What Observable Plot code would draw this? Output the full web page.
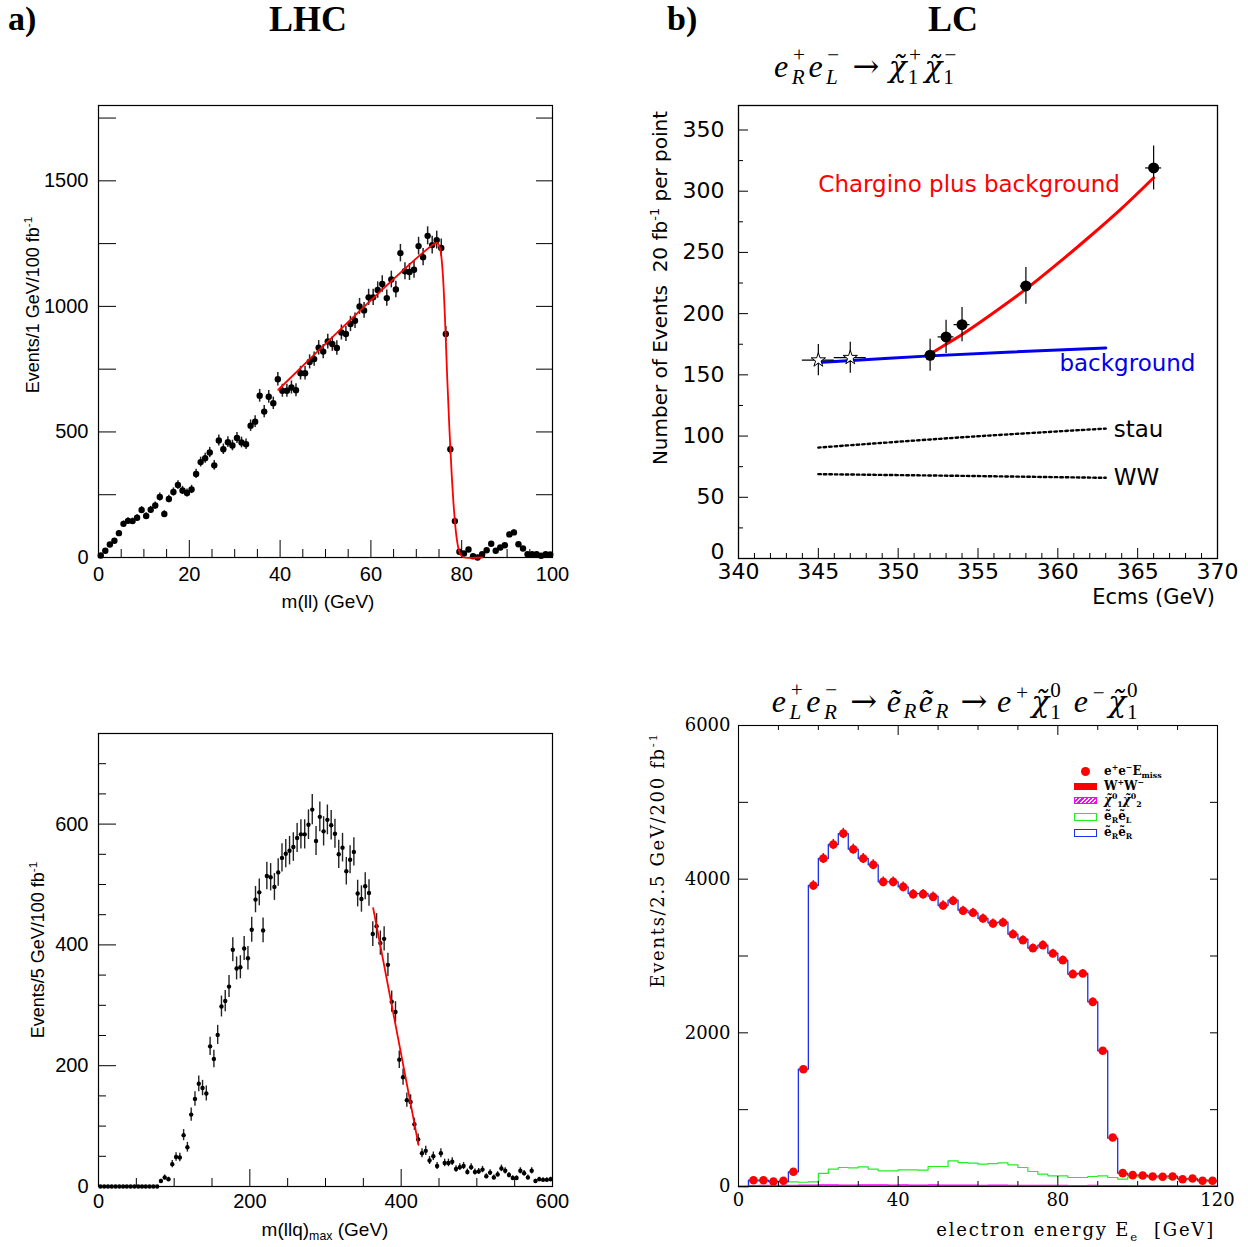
<!DOCTYPE html>
<html><head><meta charset="utf-8">
<script src="https://cdn.jsdelivr.net/npm/d3@7"></script>
<script src="https://cdn.jsdelivr.net/npm/@observablehq/plot@0.6"></script>
<style>
html,body{margin:0;padding:0;background:#fff;}
#root{position:relative;width:1248px;height:1247px;overflow:hidden;background:#fff;}
.t{position:absolute;white-space:pre;line-height:1;color:#000;}
.rot{transform:translate(-50%,-50%) rotate(-90deg);}
.ctr{transform:translate(-50%,-50%);}
.rgt{transform:translate(-100%,-50%);}
.lft{transform:translate(0,-50%);}
.math{font-family:"Liberation Serif","DejaVu Serif",serif;font-style:italic;letter-spacing:2.5px;}
.chi{font-family:"DejaVu Serif",serif;font-style:italic;letter-spacing:0;font-size:0.92em;}
.ss{display:inline-block;vertical-align:-0.34em;font-size:0.66em;line-height:1;margin-left:1px;}
.ss>span{display:block;height:1.05em;}
.sp{font-size:0.66em;vertical-align:0.55em;line-height:0;margin-left:1px;}
.sb{font-size:0.66em;vertical-align:-0.3em;line-height:0;}
.up{font-style:normal;}
.arr{font-family:"DejaVu Serif",serif;font-style:normal;margin:0 0.3em;letter-spacing:0;}
.sans{font-family:"Liberation Sans",Arial,sans-serif;}
.dj{font-family:"DejaVu Sans",sans-serif;}
.ser{font-family:"DejaVu Serif",serif;}
sup.s,sub.s{font-size:0.65em;line-height:0;}
.lg{position:absolute;font-family:"DejaVu Serif",serif;font-weight:bold;font-size:12px;line-height:1;white-space:nowrap;}
.sw{position:absolute;box-sizing:border-box;}
.bt{font-family:"Liberation Serif",serif;font-weight:bold;font-size:34px;}
</style></head><body><div id="root">
<div class="t lft bt" style="left:8px;top:19px">a)</div>
<div class="t ctr bt" style="left:308px;top:19px;font-size:36px">LHC</div>
<div class="t lft bt" style="left:667px;top:19px">b)</div>
<div class="t ctr bt" style="left:953px;top:19px;font-size:36px">LC</div>

<div class="t ctr math" style="left:867px;top:67px;font-size:32px">e<span class="ss"><span>+</span><span>R</span></span>e<span class="ss"><span>&#8722;</span><span>L</span></span><span class="arr">&#8594;</span><span class="chi">&#967;&#771;</span><span class="ss"><span>+</span><span class="up">1</span></span><span class="chi">&#967;&#771;</span><span class="ss"><span>&#8722;</span><span class="up">1</span></span></div>
<div class="t ctr math" style="left:956px;top:702px;font-size:32px">e<span class="ss"><span>+</span><span>L</span></span>e<span class="ss"><span>&#8722;</span><span>R</span></span><span class="arr">&#8594;</span>&#7869;<span class="sb">R</span>&#7869;<span class="sb">R</span><span class="arr">&#8594;</span>e<span class="sp">+</span><span class="chi">&#967;&#771;</span><span class="ss"><span class="up">0</span><span class="up">1</span></span> e<span class="sp">&#8722;</span><span class="chi">&#967;&#771;</span><span class="ss"><span class="up">0</span><span class="up">1</span></span></div>

<div class="t sans rot" style="left:33px;top:305px;font-size:18px">Events/1 GeV/100 fb<sup class="s">-1</sup></div>
<div class="t sans ctr" style="left:328px;top:601px;font-size:19px">m(ll) (GeV)</div>
<div class="t sans rot" style="left:38px;top:950px;font-size:18px">Events/5 GeV/100 fb<sup class="s">-1</sup></div>
<div class="t sans ctr" style="left:325px;top:1229px;font-size:19px">m(llq)<sub class="s">max</sub> (GeV)</div>

<div class="t dj rot" style="left:660px;top:288px;font-size:20px">Number of Events  20 fb<sup class="s">-1</sup> per point</div>
<div class="t dj rgt" style="left:1215px;top:597px;font-size:21px">Ecms (GeV)</div>

<div class="t ser rot" style="left:658px;top:860px;font-size:18px;letter-spacing:1.7px">Events/2.5 GeV/200 fb<sup class="s">-1</sup></div>
<div class="t ser rgt" style="left:1215px;top:1230px;font-size:18px;letter-spacing:1.8px">electron energy E<sub class="s">e</sub>  [GeV]</div>
</div>
<script>
// ---------------- Panel a) top: m(ll), 1 GeV bins ----------------
const aBinStart = 0.5, aBinWidth = 1;
const aValues = [8, 27, 52, 67, 97, 134, 146, 145, 158, 189,
 165, 190, 207, 241, 173, 233, 261, 289, 267, 257,
 271, 333, 380, 395, 418, 367, 466, 431, 459, 446,
 476, 458, 451, 525, 541, 644, 581, 640, 614, 710,
 664, 664, 677, 666, 734, 734, 779, 790, 835, 820,
 860, 850, 834, 896, 890, 930, 943, 1000, 984, 1036,
 1036, 1065, 1089, 1033, 1107, 1067, 1212, 1140, 1137, 1146,
 1240, 1196, 1281, 1244, 1264, 1233, 890, 431, 145, 23,
 16, 32, 5, 0, 13, 29, 55, 27, 40, 49,
 92, 100, 53, 36, 13, 13, 13, 7, 13, 12];
const aFitX = [39.6, 74.3, 74.8, 75.3, 75.8, 76.3, 76.8, 77.3, 77.8, 78.3, 78.8, 79.3, 79.8, 80.4, 84.5];
const aFitY = [668, 1252, 1250, 1225, 1140, 960, 720, 510, 330, 190, 90, 35, 10, 1, 0];
const aXLabels = [0, 20, 40, 60, 80, 100];
const aYLabels = [0, 500, 1000, 1500];
const aYTickMarks = [250, 500, 750, 1000, 1250, 1500, 1750];
const aXMajorTicks = [20, 40, 60, 80];
const aXMinorTicks = [5, 10, 15, 25, 30, 35, 45, 50, 55, 65, 70, 75, 85, 90, 95];

// ---------------- Panel a) bottom: m(llq)max, 5 GeV bins ----------------
const bBinStart = 2.5, bBinWidth = 5;
const bValues = [0,0,0,0,0,0,0,0,0,0,0,0,0,0,0,0,
 9,15,12,37,49,48,85,65,119,145,
 170,163,154,232,211,251,298,307,331,392,
 361,363,394,378,425,475,487,424,514,512,
 496,520,544,551,556,562,577,583,583,599,
 624,572,612,588,607,598,584,550,561,522,
 541,554,485,476,497,486,418,431,403,410,
 367,306,289,210,181,143,140,103,78,55,
 59,43,50,34,55,39,39,41,29,32,
 34,24,32,24,25,28,17,23,15,20,
 30,26,19,14,14,26,22,15,26,9,
 12,11,11,12];
const bFitX = [363, 422.9];
const bFitY = [461, 69];
const bXLabels = [0, 200, 400, 600];
const bYLabels = [0, 200, 400, 600];
const bYMajorTicks = [200, 400, 600];
const bYMinorTicks = [50, 100, 150, 250, 300, 350, 450, 500, 550, 650, 700];
const bXMajorTicks = [200, 400];
const bXMinorTicks = [50, 100, 150, 250, 300, 350, 450, 500, 550];

// ---------------- Panel b) top: chargino threshold scan ----------------
const cEcms = [345, 347, 352, 353, 354, 358, 366];
const cEvents = [162, 164, 166, 181, 191, 222.6, 319];
const cEventsErr = [12.8, 12.7, 13, 13.6, 14, 15, 18];
const cEcmsErr = [1, 1, 0.35, 0.5, 0.5, 0.35, 0.5];
const cMarker = ["star", "star", "dot", "dot", "dot", "dot", "dot"];
const cSigX = [352, 353, 354, 356, 358, 360, 362, 364, 366];
const cSigY = [167, 175, 183, 201, 220, 241, 263, 286, 311];
const cBkgX = [345, 352, 363];
const cBkgY = [160, 165.5, 172];
const cStauX = [345, 354, 363];
const cStauY = [90.6, 99.0, 106.1];
const cWWX = [345, 354, 363];
const cWWY = [68.9, 67.5, 65.9];
const cLabelText = ["Chargino plus background", "background", "stau", "WW"];
const cLabelX = [345.0, 360.1, 363.5, 363.5];
const cLabelY = [305, 159, 105, 66];
const cLabelColor = ["#ff0000", "#0000ee", "#000000", "#000000"];
const cXLabels = [340, 345, 350, 355, 360, 365, 370];
const cYLabels = [50, 100, 150, 200, 250, 300, 350];
const cYZeroLabel = [0];
const cYMajorTicks = [50, 100, 150, 200, 250, 300, 350];
const cYMinorTicks = [25, 75, 125, 175, 225, 275, 325];
const cXMajorTicks = [345, 350, 355, 360, 365];
const cXMinorTicks = [341,342,343,344,346,347,348,349,351,352,353,354,356,357,358,359,361,362,363,364,366,367,368,369];

// ---------------- Panel b) bottom: electron energy, 2.5 GeV bins ----------------
const dBinStart = 0, dBinWidth = 2.5, dMax = 120;
const dData = [null, 82, 82, 65, 74, 191, 1527, 3918, 4269, 4451,
 4594, 4390, 4269, 4187, 3965, 3965, 3900, 3805, 3805, 3770,
 3657, 3718, 3588, 3562, 3488, 3423, 3436, 3284, 3206, 3102,
 3141, 3033, 2946, 2764, 2772, 2403, 1766, 638, 174, 148,
 143, 130, 126, 130, 95, 104, 74, 74];
const dSelRR = [0, 82, 82, 65, 65, 191, 1527, 3918, 4269, 4451,
 4594, 4390, 4269, 4187, 3965, 3965, 3900, 3813, 3813, 3779,
 3657, 3727, 3597, 3562, 3488, 3432, 3440, 3284, 3219, 3102,
 3141, 3037, 2946, 2764, 2772, 2403, 1766, 629, 174, 148,
 148, 134, 134, 134, 100, 100, 74, 74];
const dSelRL = [0, 70, 70, 65, 65, 60, 55, 60, 170, 226,
 247, 243, 256, 226, 204, 204, 217, 217, 213, 260,
 260, 334, 312, 304, 291, 299, 308, 282, 247, 195,
 160, 139, 139, 117, 117, 130, 139, 117, 95, 126,
 126, 120, 115, 110, 105, 100, 90, 80];
const dChi12 = [0, 10, 12, 12, 14, 14, 15, 16, 18, 18,
 17, 16, 18, 20, 18, 16, 18, 17, 16, 18,
 16, 17, 15, 16, 14, 16, 15, 14, 12, 13,
 12, 12, 12, 11, 10, 12, 10, 10, 9, 8,
 8, 8, 7, 6, 6, 5, 5, 5];
const dWW = [0, 3, 3, 3, 4, 4, 4, 4, 5, 5,
 5, 5, 5, 5, 5, 5, 5, 5, 5, 5,
 5, 5, 5, 5, 5, 5, 5, 5, 5, 5,
 5, 5, 5, 5, 5, 5, 4, 4, 4, 4,
 4, 4, 4, 4, 3, 3, 3, 3];
const dXLabels = [0, 40, 80, 120];
const dYLabels = [0, 2000, 4000, 6000];
const dYTicks = [1000, 2000, 3000, 4000, 5000];
const dXMajorTicks = [40, 80];
const dXMinorTicks = [10, 20, 30, 50, 60, 70, 90, 100, 110];

// ---------------- helpers ----------------
const root = document.getElementById("root");
const plain = d => String(d);
function place(svg, left, top) {
  svg.style.position = "absolute";
  svg.style.left = left + "px";
  svg.style.top = top + "px";
  root.appendChild(svg);
}
function geom(L) {
  return {width: L.w, height: L.h, marginLeft: L.fx0 - L.left, marginRight: L.left + L.w - L.fx1,
    marginTop: L.fy0 - L.top, marginBottom: L.top + L.h - L.fy1};
}
function tLeft(vals, len, L, o = {}) { return Plot.tickY(vals, {y: d => d, insetRight: (L.fx1 - L.fx0) - len, stroke: "#000", ...o}); }
function tRight(vals, len, L, o = {}) { return Plot.tickY(vals, {y: d => d, insetLeft: (L.fx1 - L.fx0) - len, stroke: "#000", ...o}); }
function tBottom(vals, len, L, o = {}) { return Plot.tickX(vals, {x: d => d, insetTop: (L.fy1 - L.fy0) - len, stroke: "#000", ...o}); }
function tTop(vals, len, L, o = {}) { return Plot.tickX(vals, {x: d => d, insetBottom: (L.fy1 - L.fy0) - len, stroke: "#000", ...o}); }

// ---------------- Panel A ----------------
{
  const L = {left: 0, top: 90, w: 600, h: 540, fx0: 98, fx1: 552, fy0: 105, fy1: 557};
  const data = aValues.map((v, i) => ({x: aBinStart + i * aBinWidth, y: v}));
  const fit = aFitX.map((x, i) => ({x, y: aFitY[i]}));
  const svg = Plot.plot({
    ...geom(L),
    style: {fontFamily: "'Liberation Sans', Arial, sans-serif", fontSize: "20px", background: "none", overflow: "visible", color: "#000"},
    x: {domain: [0, 100], label: null},
    y: {domain: [0, 1800], label: null},
    marks: [
      Plot.frame({stroke: "#000", strokeWidth: 1.2}),
      tLeft(aYTickMarks, 18, L), tRight(aYTickMarks, 16, L),
      tBottom(aXMajorTicks, 17, L), tBottom(aXMinorTicks, 8, L),
      Plot.axisX({ticks: aXLabels, tickFormat: plain, tickSize: 0, tickPadding: 9, label: null}),
      Plot.axisY({ticks: aYLabels, tickFormat: plain, tickSize: 0, tickPadding: 10, label: null}),
      Plot.ruleX(data, {x: "x", y1: d => d.y - Math.sqrt(d.y), y2: d => d.y + Math.sqrt(d.y), stroke: "#222", strokeWidth: 1.5}),
      Plot.dot(data, {x: "x", y: "y", r: 3.2, fill: "#000", stroke: "none"}),
      Plot.line(fit, {x: "x", y: "y", stroke: "#ff0000", strokeWidth: 1.8, curve: "catmull-rom"})
    ]
  });
  place(svg, L.left, L.top);
}

// ---------------- Panel B ----------------
{
  const L = {left: 0, top: 715, w: 600, h: 532, fx0: 98, fx1: 552, fy0: 733, fy1: 1186};
  const data = bValues.map((v, i) => ({x: bBinStart + i * bBinWidth, y: v}));
  const fit = bFitX.map((x, i) => ({x, y: bFitY[i]}));
  const svg = Plot.plot({
    ...geom(L),
    style: {fontFamily: "'Liberation Sans', Arial, sans-serif", fontSize: "20px", background: "none", overflow: "visible", color: "#000"},
    x: {domain: [0, 600], label: null},
    y: {domain: [0, 750], label: null},
    marks: [
      Plot.frame({stroke: "#000", strokeWidth: 1.2}),
      tLeft(bYMajorTicks, 18, L), tLeft(bYMinorTicks, 8, L),
      tBottom(bXMajorTicks, 17, L), tBottom(bXMinorTicks, 8, L),
      Plot.axisX({ticks: bXLabels, tickFormat: plain, tickSize: 0, tickPadding: 7, label: null}),
      Plot.axisY({ticks: bYLabels, tickFormat: plain, tickSize: 0, tickPadding: 10, label: null}),
      Plot.ruleX(data, {x: "x", y1: d => d.y - Math.sqrt(d.y), y2: d => d.y + Math.sqrt(d.y), stroke: "#222", strokeWidth: 1.4}),
      Plot.dot(data, {x: "x", y: "y", r: 2.2, fill: "#000", stroke: "none"}),
      Plot.line(fit, {x: "x", y: "y", stroke: "#ff0000", strokeWidth: 1.8})
    ]
  });
  place(svg, L.left, L.top);
}

// ---------------- Panel C ----------------
{
  const L = {left: 620, top: 90, w: 628, h: 540, fx0: 738, fx1: 1217, fy0: 105, fy1: 558};
  const pts = cEcms.map((x, i) => ({x, y: cEvents[i], ey: cEventsErr[i], ex: cEcmsErr[i], m: cMarker[i]}));
  const line = (xs, ys) => xs.map((x, i) => ({x, y: ys[i]}));
  const labels = cLabelText.map((t, i) => ({t, x: cLabelX[i], y: cLabelY[i], c: cLabelColor[i]}));
  const svg = Plot.plot({
    ...geom(L),
    style: {fontFamily: "'DejaVu Sans', sans-serif", fontSize: "22px", background: "none", overflow: "visible", color: "#000"},
    x: {domain: [340, 370], label: null},
    y: {domain: [0, 370], label: null},
    marks: [
      Plot.frame({stroke: "#000", strokeWidth: 1.3}),
      tLeft(cYMajorTicks, 10, L), tLeft(cYMinorTicks, 5, L),
      tBottom(cXMajorTicks, 10, L), tBottom(cXMinorTicks, 5, L),
      Plot.axisX({ticks: cXLabels, tickFormat: plain, tickSize: 0, tickPadding: 5, label: null}),
      Plot.axisY({ticks: cYLabels, tickFormat: plain, tickSize: 0, tickPadding: 14, label: null}),
      Plot.axisY({ticks: cYZeroLabel, tickFormat: plain, tickSize: 0, tickPadding: 14, dy: -7, label: null}),
      Plot.line(line(cWWX, cWWY), {x: "x", y: "y", stroke: "#000", strokeWidth: 2.4, strokeDasharray: "2.5 3"}),
      Plot.line(line(cStauX, cStauY), {x: "x", y: "y", stroke: "#000", strokeWidth: 2.4, strokeDasharray: "2.5 3", curve: "catmull-rom"}),
      Plot.line(line(cBkgX, cBkgY), {x: "x", y: "y", stroke: "#0000ee", strokeWidth: 3, curve: "catmull-rom"}),
      Plot.line(line(cSigX, cSigY), {x: "x", y: "y", stroke: "#ff0000", strokeWidth: 3, curve: "catmull-rom"}),
      Plot.ruleX(pts, {x: "x", y1: d => d.y - d.ey, y2: d => d.y + d.ey, stroke: "#000", strokeWidth: 1.2}),
      Plot.ruleY(pts, {y: "y", x1: d => d.x - d.ex, x2: d => d.x + d.ex, stroke: "#000", strokeWidth: 1.2}),
      Plot.dot(pts.filter(d => d.m === "dot"), {x: "x", y: "y", r: 5.5, fill: "#000"}),
      Plot.dot(pts.filter(d => d.m === "star"), {x: "x", y: "y", r: 4.5, symbol: "star", fill: "#fff", stroke: "#000", strokeWidth: 1}),
      Plot.text(labels, {x: "x", y: "y", text: "t", fill: "c", textAnchor: "start", fontSize: 23})
    ]
  });
  place(svg, L.left, L.top);
}

// ---------------- Panel D ----------------
{
  const L = {left: 620, top: 700, w: 628, h: 547, fx0: 738, fx1: 1217, fy0: 725, fy1: 1186};
  const edges = dSelRR.map((v, i) => dBinStart + i * dBinWidth);
  const steps = vals => vals.map((v, i) => ({x: edges[i], y: v})).concat([{x: dMax, y: vals[vals.length - 1]}]);
  const pts = dData.map((v, i) => ({x: edges[i] + dBinWidth / 2, y: v})).filter(d => d.y != null);
  const svg = Plot.plot({
    ...geom(L),
    style: {fontFamily: "'DejaVu Serif', serif", fontSize: "18px", background: "none", overflow: "visible", color: "#000"},
    x: {domain: [0, 120], label: null},
    y: {domain: [0, 6000], label: null},
    marks: [
      Plot.line(steps(dWW), {x: "x", y: "y", curve: "step-after", stroke: "#cc0000", strokeWidth: 1.2}),
      Plot.line(steps(dChi12), {x: "x", y: "y", curve: "step-after", stroke: "#ff00ff", strokeWidth: 1.5}),
      Plot.line(steps(dSelRL), {x: "x", y: "y", curve: "step-after", stroke: "#22ee22", strokeWidth: 1.2}),
      Plot.line(steps(dSelRR), {x: "x", y: "y", curve: "step-after", stroke: "#1a2ff0", strokeWidth: 1.3}),
      Plot.ruleX(pts, {x: "x", y1: d => d.y - Math.sqrt(d.y), y2: d => d.y + Math.sqrt(d.y), stroke: "#ff0000", strokeWidth: 1.5}),
      Plot.dot(pts, {x: "x", y: "y", r: 4.3, fill: "#ff0000"}),
      Plot.frame({stroke: "#000", strokeWidth: 1.1}),
      tLeft(dYTicks, 10, L), tRight(dYTicks, 7, L),
      tBottom(dXMajorTicks, 10, L), tBottom(dXMinorTicks, 5, L),
      tTop(dXMajorTicks, 10, L), tTop(dXMinorTicks, 5, L),
      Plot.axisX({ticks: dXLabels, tickFormat: plain, tickSize: 0, tickPadding: 7, label: null}),
      Plot.axisY({ticks: dYLabels, tickFormat: plain, tickSize: 0, tickPadding: 8, label: null})
    ]
  });
  place(svg, L.left, L.top);
}

// ---------------- Legend of panel D ----------------
const legendItems = [
  {label: "e<sup class='s'>+</sup>e<sup class='s'>&#8722;</sup>E<sub class='s'>miss</sub>", kind: "dot", color: "#ff0000"},
  {label: "W<sup class='s'>+</sup>W<sup class='s'>&#8722;</sup>", kind: "fill", color: "#ff0000"},
  {label: "<i>&#967;&#771;</i><sup class='s'>0</sup><sub class='s'>1</sub><i>&#967;&#771;</i><sup class='s'>0</sup><sub class='s'>2</sub>", kind: "hatch", color: "#ff00ff"},
  {label: "&#7869;<sub class='s'>R</sub>&#7869;<sub class='s'>L</sub>", kind: "box", color: "#22ee22"},
  {label: "&#7869;<sub class='s'>R</sub>&#7869;<sub class='s'>R</sub>", kind: "box", color: "#1a2ff0"}
];
const legendY = [771, 786, 800, 816, 832];
legendItems.forEach((it, i) => {
  const cy = legendY[i];
  const sw = document.createElement("div");
  sw.className = "sw";
  if (it.kind === "dot") {
    Object.assign(sw.style, {left: "1081px", top: (cy - 4.5) + "px", width: "9px", height: "9px", borderRadius: "50%", background: it.color});
  } else if (it.kind === "fill") {
    Object.assign(sw.style, {left: "1074px", top: (cy - 3.5) + "px", width: "23px", height: "7px", background: it.color});
  } else if (it.kind === "hatch") {
    Object.assign(sw.style, {left: "1074px", top: (cy - 3.5) + "px", width: "23px", height: "7px", border: "1px solid " + it.color,
      background: "repeating-linear-gradient(-45deg, #ff00ff 0 1.5px, #fff 1.5px 3px)"});
  } else {
    Object.assign(sw.style, {left: "1074px", top: (cy - 3.5) + "px", width: "23px", height: "8px", border: "1.3px solid " + it.color, background: "#fff"});
  }
  root.appendChild(sw);
  const tx = document.createElement("div");
  tx.className = "lg";
  tx.style.left = "1104px";
  tx.style.top = cy + "px";
  tx.style.transform = "translate(0,-50%)";
  tx.innerHTML = it.label;
  root.appendChild(tx);
});
</script>
</body></html>
